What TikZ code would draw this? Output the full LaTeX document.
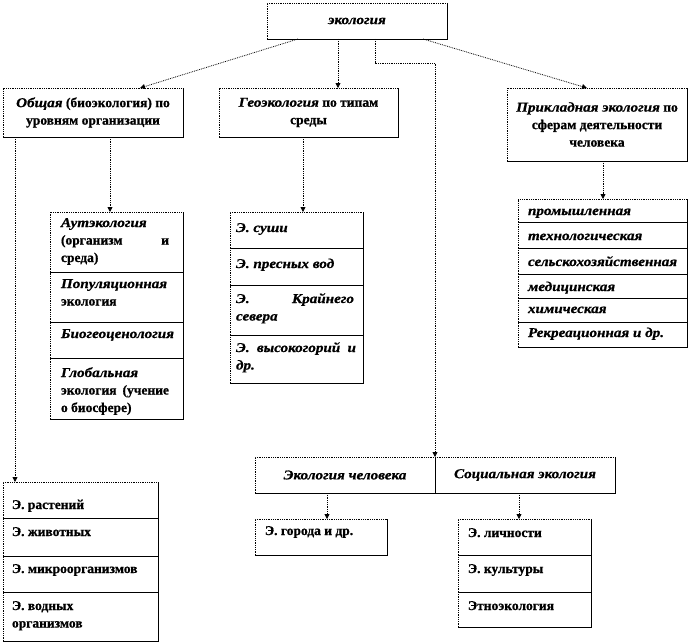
\documentclass[tikz,border=0pt]{standalone}
\usepackage{fontspec}
\setmainfont{Liberation Serif}[BoldFeatures={FakeBold=0.8},BoldItalicFeatures={FakeStretch=1.12,FakeBold=0.8}]
\usetikzlibrary{arrows.meta,calc}
\newcommand\bx{\fontsize{13.5}{17.5}\selectfont\bfseries}
\newcommand\ii[1]{\textit{#1}}
% width, height, left pad, text width, first baseline, text
\newcommand\cellbox[6]{\hbox to #1pt{\hspace*{#3pt}\parbox[c][#2pt][t]{#4pt}{\rule{0pt}{#5pt}#6}\hfil}}
\tikzset{
  frame/.style={anchor=north west, inner sep=0pt, outer sep=0pt, font=\bx},
  topbox/.style={frame, align=center},
  conn/.style={densely dotted, line width=0.8pt, -{Triangle[length=5pt,width=5pt]}},
  solidedge/.style={line width=0.9pt},
  dotedge/.style={line width=0.8pt, densely dotted},
}
\begin{document}
\begin{tikzpicture}[x=1pt,y=-1pt]
\useasboundingbox (0,0) rectangle (690,642);
% top level
\node[topbox, minimum width=180pt, minimum height=36pt] (E) at (267,3) {\ii{экология}};
\node[topbox, minimum width=180pt, minimum height=49pt] (O) at (3,88) {\ii{Общая} (биоэкология) по\\ уровням организации};
\node[topbox, minimum width=179pt, minimum height=49pt] (G) at (219,88) {\ii{Геоэкология} по типам\\ среды};
\node[topbox, minimum width=180pt, minimum height=73pt] (P) at (507,88) {\ii{Прикладная экология} по\\ сферам деятельности\\ человека};
\node[topbox, minimum width=180pt, minimum height=36pt] (H1) at (255,457) {\ii{Экология человека}};
\node[topbox, minimum width=180pt, minimum height=36pt] (H2) at (435,457) {\ii{Социальная экология}};
% general ecology stack
\node[frame] (a1) at (50,212) {\cellbox{133}{60}{11}{108}{15}{\ii{Аутэкология}\linebreak (организм и\linebreak среда)}};
\node[frame] (a2) at (50,272) {\cellbox{133}{50}{11}{108}{16}{\ii{Популяционная}\\ экология}};
\node[frame] (a3) at (50,322) {\cellbox{133}{36}{11}{112}{16}{\ii{Биогеоценология}}};
\node[frame] (a4) at (50,358) {\cellbox{133}{61}{11}{108}{19}{\ii{Глобальная}\linebreak экология (учение\linebreak о биосфере)}};
% geoecology stack
\node[frame] (g1) at (230,212) {\cellbox{133}{36}{6}{118}{20}{\ii{Э. суши}}};
\node[frame] (g2) at (230,248) {\cellbox{133}{37}{6}{118}{20}{\ii{Э. пресных вод}}};
\node[frame] (g3) at (230,285) {\cellbox{133}{50}{6}{118}{18}{\ii{Э. Крайнего\linebreak севера}}};
\node[frame] (g4) at (230,335) {\cellbox{133}{48}{6}{120}{17}{\ii{Э. высокогорий и\linebreak др.}}};
% applied stack
\node[frame] (p1) at (518,199) {\cellbox{169}{23}{10}{155}{16}{\ii{промышленная}}};
\node[frame] (p2) at (518,222) {\cellbox{169}{26}{10}{155}{18}{\ii{технологическая}}};
\node[frame] (p3) at (518,248) {\cellbox{169}{26}{10}{155}{18}{\ii{сельскохозяйственная}}};
\node[frame] (p4) at (518,274) {\cellbox{169}{24}{10}{155}{17}{\ii{медицинская}}};
\node[frame] (p5) at (518,298) {\cellbox{169}{24}{10}{155}{15}{\ii{химическая}}};
\node[frame] (p6) at (518,322) {\cellbox{169}{25}{10}{155}{15}{\ii{Рекреационная и др.}}};
% bottom-left stack
\node[frame] (b1) at (3,482) {\cellbox{155}{36}{9}{140}{27}{Э. растений}};
\node[frame] (b2) at (3,518) {\cellbox{155}{38}{9}{140}{18}{Э. животных}};
\node[frame] (b3) at (3,556) {\cellbox{155}{36}{9}{140}{17}{Э. микроорганизмов}};
\node[frame] (b4) at (3,592) {\cellbox{155}{49}{9}{140}{18}{Э. водных\\ организмов}};
% human ecology
\node[frame] (c1) at (255,519) {\cellbox{132}{36}{10}{118}{16}{Э. города и др.}};
% social ecology stack
\node[frame] (s1) at (458,519) {\cellbox{133}{36}{10}{118}{18}{Э. личности}};
\node[frame] (s2) at (458,555) {\cellbox{133}{37}{10}{118}{18}{Э. культуры}};
\node[frame] (s3) at (458,592) {\cellbox{133}{35}{10}{118}{18}{Этноэкология}};
% frames: dotted left/top, solid right/bottom
\foreach \n in {E,O,G,P,H1,H2,a1,a2,a3,a4,g1,g2,g3,g4,p1,p2,p3,p4,p5,p6,b1,b2,b3,b4,c1,s1,s2,s3}{
  \draw[dotedge] (\n.south west) -- (\n.north west) -- (\n.north east);
  \draw[solidedge] (\n.north east) -- (\n.south east) -- (\n.south west);
}
% connectors
\draw[conn] ([xshift=31pt]E.south west) -- ([xshift=137pt]O.north west);
\draw[conn] ([xshift=71pt]E.south west) -- ([xshift=119pt]G.north west);
\draw[conn] ([xshift=156pt]E.south west) -- ([xshift=80pt]P.north west);
\draw[conn] ([xshift=108pt]E.south west) -- ++(0,24) -| (H1.north east);
\draw[conn] ([xshift=12pt]O.south west) -- ([xshift=12pt]b1.north west);
\draw[conn] ([xshift=107pt]O.south west) -- ([xshift=60pt]a1.north west);
\draw[conn] ([xshift=84pt]G.south west) -- ([xshift=73pt]g1.north west);
\draw[conn] ([xshift=96pt]P.south west) -- ([xshift=85pt]p1.north west);
\draw[conn] ([xshift=72pt]H1.south west) -- ([xshift=72pt]c1.north west);
\draw[conn] ([xshift=84pt]H2.south west) -- ([xshift=61pt]s1.north west);
\end{tikzpicture}
\end{document}
